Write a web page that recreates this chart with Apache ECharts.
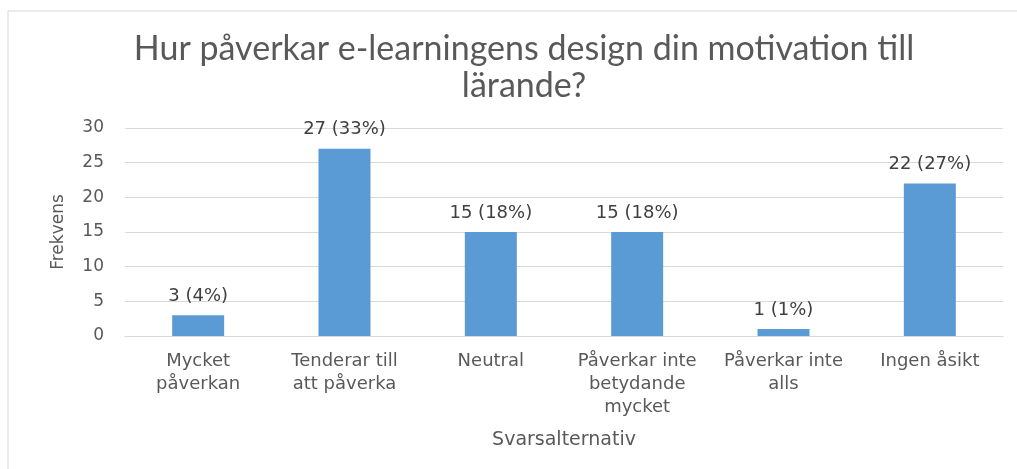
<!DOCTYPE html>
<html><head><meta charset="utf-8">
<script src="https://cdn.jsdelivr.net/npm/echarts@6/dist/echarts.min.js"></script>
<style>html,body{margin:0;padding:0;background:#fff}#c{width:1017px;height:469px}</style>
</head><body><div id="c"></div>
<script>
var categories = ['Mycket\npåverkan', 'Tenderar till\natt påverka', 'Neutral', 'Påverkar inte\nbetydande\nmycket', 'Påverkar inte\nalls', 'Ingen åsikt'];
var values = [3, 27, 15, 15, 1, 22];
var percents = ['4%', '33%', '18%', '18%', '1%', '27%'];
var titleText = 'Hur påverkar e-learningens design din motivation till\nlärande?';
var chart = echarts.init(document.getElementById('c'));
chart.setOption({
  animation: false,
  title: {text: titleText, left: 519, textAlign: 'center', top: 26,
    textStyle: {fontFamily: 'Lato', fontWeight: 'normal', fontSize: 34, color: '#595959', lineHeight: 37}},
  grid: {left: 125, right: 14, top: 128, bottom: 133},
  graphic: [
    {type: 'line', shape: {x1: 8, y1: 11, x2: 1017, y2: 11}, style: {stroke: '#d9d9d9', lineWidth: 1}},
    {type: 'line', shape: {x1: 8, y1: 11, x2: 8, y2: 469}, style: {stroke: '#d9d9d9', lineWidth: 1}}
  ],
  xAxis: {type: 'category', data: categories,
    name: 'Svarsalternativ', nameLocation: 'middle', nameGap: 95,
    nameTextStyle: {fontFamily: 'DejaVu Sans', fontSize: 19, color: '#595959'},
    axisLine: {lineStyle: {color: '#d9d9d9'}}, axisTick: {show: false},
    axisLabel: {interval: 0, fontFamily: 'DejaVu Sans', fontSize: 18, color: '#595959', lineHeight: 23, margin: 14}},
  yAxis: {type: 'value', min: 0, max: 30, interval: 5,
    name: 'Frekvens', nameLocation: 'middle', nameGap: 58,
    nameTextStyle: {fontFamily: 'DejaVu Sans', fontSize: 17, color: '#595959'},
    axisLine: {show: false}, axisTick: {show: false},
    splitLine: {lineStyle: {color: '#d9d9d9'}},
    axisLabel: {fontFamily: 'DejaVu Sans', fontSize: 17, color: '#595959', margin: 21}},
  series: [{type: 'bar', data: values, barWidth: 52, itemStyle: {color: '#5B9BD5'},
    label: {show: true, position: 'top', distance: 10, fontFamily: 'DejaVu Sans', fontSize: 18, color: '#404040',
      formatter: function (p) { return p.value + ' (' + percents[p.dataIndex] + ')'; }}}]
});
</script></body></html>
